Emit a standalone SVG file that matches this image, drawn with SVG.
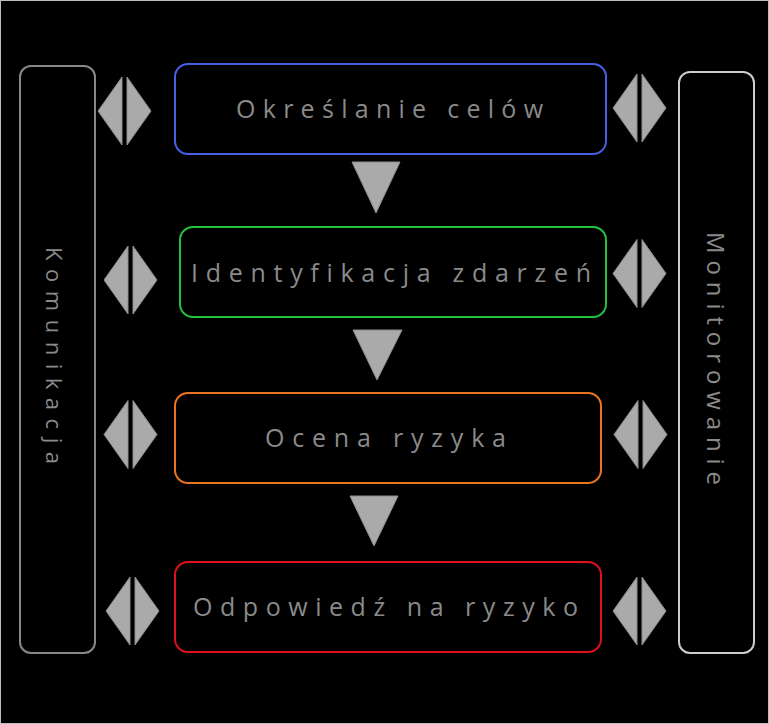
<svg xmlns="http://www.w3.org/2000/svg" width="769" height="724" viewBox="0 0 769 724">
<style>
.bg{fill:#000}
.step{fill:#000;stroke-width:2}
.side{fill:#000;stroke-width:2}
.lbl{font-family:"Open Sans","DejaVu Sans",sans-serif;font-size:25px;fill:#8a8a8a;font-variant-ligatures:none}
.slbl{font-family:"Open Sans","DejaVu Sans",sans-serif;fill:#8a8a8a;font-variant-ligatures:none}
.dia{fill:#aaaaaa;stroke:#8c8c8c;stroke-width:1}
.down{fill:#aaaaaa;stroke:#8c8c8c;stroke-width:1}
</style>
<defs>
<g id="dia">
<path class="dia" d="M-2.5,-34 L-2.5,34 L-26.5,0 Z"/>
<path class="dia" d="M2.5,-34 L2.5,34 L26.5,0 Z"/>
</g>
</defs>
<rect class="bg" x="0" y="0" width="769" height="724"/>
<rect x="0.5" y="0.5" width="768" height="723" fill="none" stroke="#bdbdbd" stroke-width="1"/>

<g id="komunikacja">
<rect class="side" x="20" y="66" width="75" height="587" rx="11" stroke="#888888"/>
<text class="slbl" font-size="22" textLength="217" lengthAdjust="spacing" transform="translate(46,247) rotate(90)">Komunikacja</text>
</g>
<g id="monitorowanie">
<rect class="side" x="679" y="72" width="75" height="581" rx="11" stroke="#cccccc"/>
<text class="slbl" font-size="24" textLength="253" lengthAdjust="spacing" transform="translate(707,232) rotate(90)">Monitorowanie</text>
</g>

<g id="okreslanie">
<rect class="step" x="175" y="64" width="431" height="90" rx="13" stroke="#4660e6"/>
<text class="lbl" x="236" y="118" textLength="307" lengthAdjust="spacing">Określanie celów</text>
</g>
<g id="identyfikacja">
<rect class="step" x="180" y="227" width="426" height="90" rx="13" stroke="#22c23e"/>
<text class="lbl" x="191" y="282" textLength="400" lengthAdjust="spacing">Identyfikacja zdarzeń</text>
</g>
<g id="ocena">
<rect class="step" x="175" y="393" width="426" height="90" rx="13" stroke="#ea7420"/>
<text class="lbl" x="265" y="447" textLength="241" lengthAdjust="spacing">Ocena ryzyka</text>
</g>
<g id="odpowiedz">
<rect class="step" x="175" y="562" width="426" height="90" rx="13" stroke="#e0101c"/>
<text class="lbl" x="193" y="616" textLength="385" lengthAdjust="spacing">Odpowiedź na ryzyko</text>
</g>

<g id="connectors">
<polygon class="down" points="352,162 400,162 376,213"/>
<polygon class="down" points="353,330 402,330 377,380"/>
<polygon class="down" points="350,496 398,496 374,546"/>
<use href="#dia" x="124.5" y="111"/>
<use href="#dia" x="130.5" y="280"/>
<use href="#dia" x="130.5" y="434.5"/>
<use href="#dia" x="132.5" y="611"/>
<use href="#dia" x="639.5" y="108"/>
<use href="#dia" x="639.5" y="273.5"/>
<use href="#dia" x="640.5" y="434.5"/>
<use href="#dia" x="639.5" y="611"/>
</g>
</svg>
